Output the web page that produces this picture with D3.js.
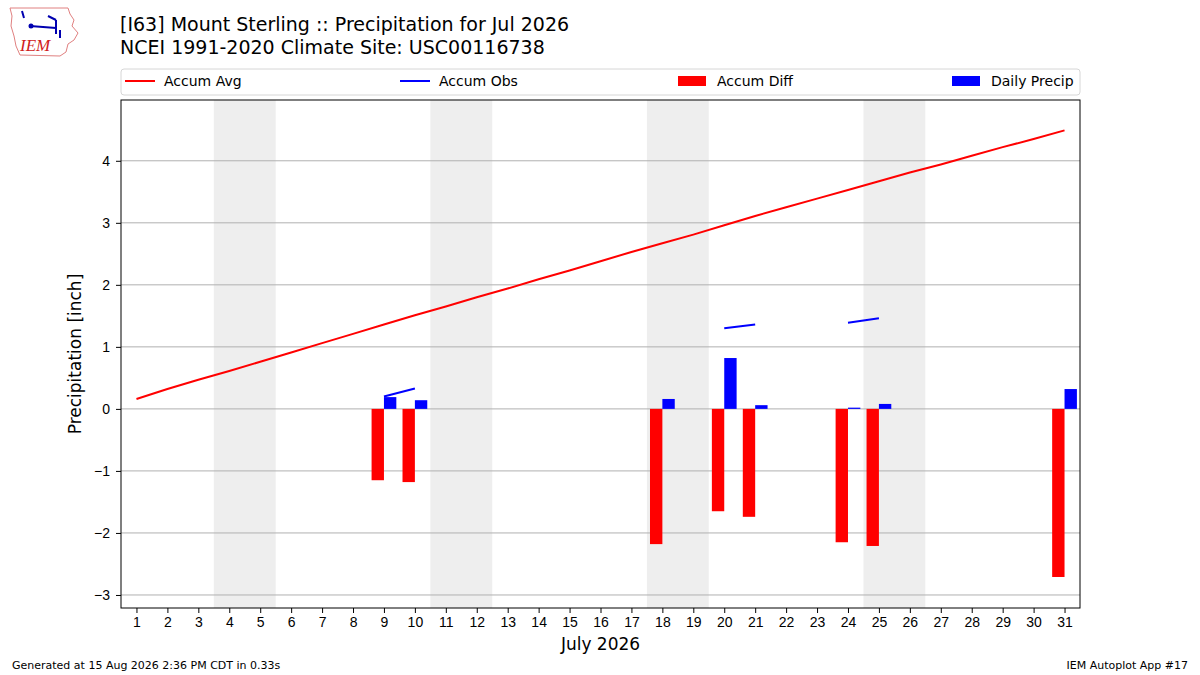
<!DOCTYPE html>
<html>
<head>
<meta charset="utf-8">
<script src="https://cdn.jsdelivr.net/npm/d3@7"></script>
<style>
  body { margin: 0; background: #fff; }
  svg { font-family: "DejaVu Sans", sans-serif; }
  .axis text { font-size: 14px; fill: #000; }
  .axis line { stroke: #000; }
  .axis path.domain { display: none; }
</style>
</head>
<body>
<svg id="chart" width="1200" height="675"></svg>
<script>
// days of July 2026
var days = d3.range(1, 32);
// climatological accumulated precip (inch)
var accumAvg = [0.16, 0.32, 0.47, 0.61, 0.76, 0.91, 1.06, 1.21, 1.36, 1.51,
                1.65, 1.80, 1.94, 2.09, 2.23, 2.38, 2.53, 2.67, 2.81, 2.96,
                3.11, 3.25, 3.39, 3.53, 3.67, 3.81, 3.94, 4.08, 4.22, 4.35, 4.49];
// daily observed precip, null = no report
var dailyPrecip = [null, null, null, null, null, null, null, null, 0.19, 0.14,
                   null, null, null, null, null, null, null, 0.16, null, 0.82,
                   0.06, null, null, 0.02, 0.08, null, null, null, null, null, 0.32];
// accumulated observed, null = no report
var accumObs = [null, null, null, null, null, null, null, null, 0.20, 0.33,
                null, null, null, null, null, null, null, 0.49, null, 1.30,
                1.36, null, null, 1.39, 1.46, null, null, null, null, null, 1.78];
// accum obs - accum avg
var accumDiff = [null, null, null, null, null, null, null, null, -1.15, -1.18,
                 null, null, null, null, null, null, null, -2.18, null, -1.65,
                 -1.74, null, null, -2.15, -2.21, null, null, null, null, null, -2.71];
var weekends = [[4, 5], [11, 12], [18, 19], [25, 26]];
var yTicks = [-3, -2, -1, 0, 1, 2, 3, 4];

var svg = d3.select("#chart");
var margin = {left: 121, right: 120, top: 100, bottom: 67};
var width = 1200 - margin.left - margin.right,
    height = 675 - margin.top - margin.bottom;

var xscale = d3.scaleLinear().domain([0.5, 31.5]).range([0, width]);
var yscale = d3.scaleLinear().domain([-3.21, 4.98]).range([height, 0]);

var g = svg.append("g")
    .attr("transform", "translate(" + margin.left + "," + margin.top + ")");

// weekend shading
g.selectAll("rect.wk")
    .data(weekends)
    .enter()
    .append("rect")
    .attr("class", "wk")
    .attr("x", function(d) { return xscale(d[0] - 0.5); })
    .attr("width", function(d) { return xscale(d[1] + 0.5) - xscale(d[0] - 0.5); })
    .attr("y", 0)
    .attr("height", height)
    .attr("fill", "#eeeeee");

// grid
g.selectAll("line.grid")
    .data(yTicks)
    .enter()
    .append("line")
    .attr("class", "grid")
    .attr("x1", 0).attr("x2", width)
    .attr("y1", function(d) { return yscale(d); })
    .attr("y2", function(d) { return yscale(d); })
    .attr("stroke", "#b0b0b0")
    .attr("stroke-width", 1);

var barw = xscale(1.4) - xscale(1);

// accum diff bars (left of day)
g.selectAll("rect.diff")
    .data(days.filter(function(d, i) { return accumDiff[i] != null; }))
    .enter()
    .append("rect")
    .attr("class", "diff")
    .attr("x", function(d) { return xscale(d) - barw; })
    .attr("width", barw)
    .attr("y", function(d) { return yscale(Math.max(0, accumDiff[d - 1])); })
    .attr("height", function(d) { return Math.abs(yscale(accumDiff[d - 1]) - yscale(0)); })
    .attr("fill", "red");

// daily precip bars (right of day)
g.selectAll("rect.daily")
    .data(days.filter(function(d, i) { return dailyPrecip[i] != null; }))
    .enter()
    .append("rect")
    .attr("class", "daily")
    .attr("x", function(d) { return xscale(d); })
    .attr("width", barw)
    .attr("y", function(d) { return yscale(dailyPrecip[d - 1]); })
    .attr("height", function(d) { return yscale(0) - yscale(dailyPrecip[d - 1]); })
    .attr("fill", "blue");

var lineFunction = d3.line()
    .defined(function(d) { return d.y != null; })
    .x(function(d) { return xscale(d.x); })
    .y(function(d) { return yscale(d.y); });

g.append("path")
    .attr("d", lineFunction(days.map(function(d, i) { return {x: d, y: accumAvg[i]}; })))
    .attr("stroke", "red")
    .attr("stroke-width", 2)
    .attr("fill", "none");

g.append("path")
    .attr("d", lineFunction(days.map(function(d, i) { return {x: d, y: accumObs[i]}; })))
    .attr("stroke", "blue")
    .attr("stroke-width", 2)
    .attr("fill", "none");

//x axis
g.append("g")
    .attr("class", "axis axis--x")
    .attr("transform", "translate(0," + height + ")")
    .call(d3.axisBottom(xscale).tickValues(days).tickFormat(d3.format("d")).tickSizeOuter(0).tickSize(5).tickPadding(4));

//y axis
g.append("g")
    .attr("class", "axis axis--y")
    .call(d3.axisLeft(yscale).tickValues(yTicks)
          .tickFormat(function(d) { return d < 0 ? "\u2212" + Math.abs(d) : d; })
          .tickSizeOuter(0).tickSize(5).tickPadding(6));

// frame
g.append("rect")
    .attr("width", width).attr("height", height)
    .attr("fill", "none").attr("stroke", "#000").attr("stroke-width", 1);

// axis labels
g.append("text")
    .attr("x", width / 2).attr("y", height + 42)
    .attr("text-anchor", "middle")
    .style("font-size", "17px")
    .text("July 2026");

g.append("text")
    .attr("transform", "translate(-40," + (height / 2) + ") rotate(-90)")
    .attr("text-anchor", "middle")
    .style("font-size", "17px")
    .text("Precipitation [inch]");

// titles
svg.append("text").attr("x", 120).attr("y", 31)
    .style("font-size", "19px").text("[I63] Mount Sterling :: Precipitation for Jul 2026");
svg.append("text").attr("x", 120).attr("y", 54)
    .style("font-size", "19px").text("NCEI 1991-2020 Climate Site: USC00116738");

// legend
var legend = svg.append("g");
legend.append("rect")
    .attr("x", 121).attr("y", 69).attr("width", 959).attr("height", 26)
    .attr("rx", 3).attr("fill", "#fff").attr("stroke", "#d6d6d6");
var legendItems = [
    {label: "Accum Avg", color: "red", kind: "line", x: 125},
    {label: "Accum Obs", color: "blue", kind: "line", x: 400},
    {label: "Accum Diff", color: "red", kind: "patch", x: 678},
    {label: "Daily Precip", color: "blue", kind: "patch", x: 952}
];
legendItems.forEach(function(it) {
    if (it.kind == "line") {
        legend.append("line").attr("x1", it.x).attr("x2", it.x + 30)
            .attr("y1", 81).attr("y2", 81)
            .attr("stroke", it.color).attr("stroke-width", 2);
    } else {
        legend.append("rect").attr("x", it.x).attr("y", 76).attr("width", 28).attr("height", 10)
            .attr("fill", it.color);
    }
    legend.append("text").attr("x", it.x + 39).attr("y", 86)
        .style("font-size", "14px").text(it.label);
});

// footer
svg.append("text").attr("x", 12).attr("y", 669)
    .style("font-size", "11px").text("Generated at 15 Aug 2026 2:36 PM CDT in 0.33s");
svg.append("text").attr("x", 1188).attr("y", 669).attr("text-anchor", "end")
    .style("font-size", "11px").text("IEM Autoplot App #17");

// logo (rough)
var logo = svg.append("g");
logo.append("path")
    .attr("d", "M10,8 L68,8 L70,14 L74,20 L72,26 L78,33 L74,40 L68,44 L66,52 L60,56 L20,55 L16,46 L14,36 L11,26 L12,16 Z")
    .attr("fill", "none").attr("stroke", "#e08080").attr("stroke-width", 1);
logo.append("path")
    .attr("d", "M30,26 L56,28 M48,16 L56,20 M56,20 L56,34 M60,30 L60,38 M22,11 L24,18")
    .attr("stroke", "#0000b0").attr("stroke-width", 2).attr("fill", "none");
logo.append("circle").attr("cx", 31).attr("cy", 26).attr("r", 2.5).attr("fill", "#0000b0");
logo.append("text").attr("x", 20).attr("y", 51)
    .style("font-family", "Liberation Serif, serif").style("font-style", "italic")
    .style("font-size", "17px").attr("fill", "#d02020").text("IEM");
</script>
</body>
</html>
